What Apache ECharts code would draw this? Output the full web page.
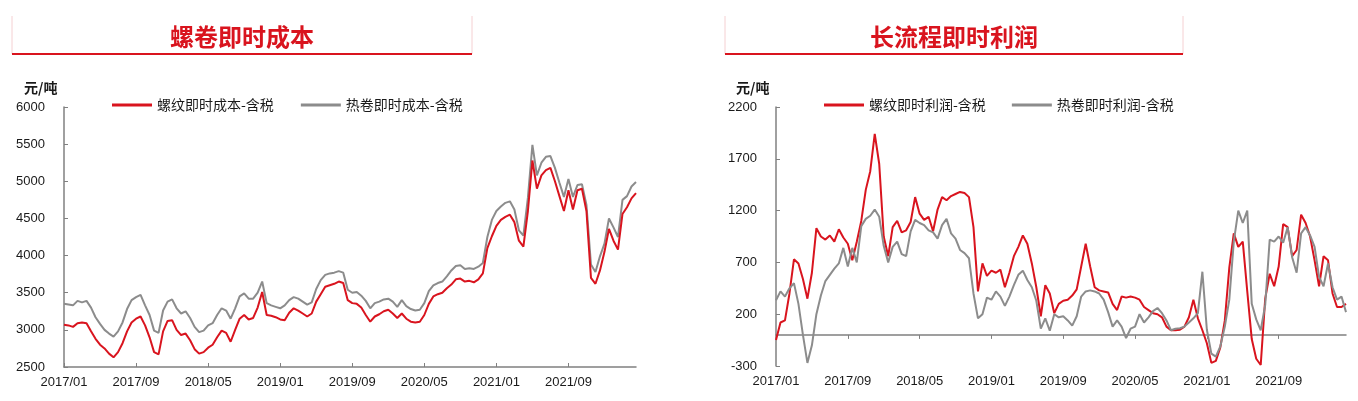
<!DOCTYPE html>
<html>
<head>
<meta charset="utf-8">
<script src="https://cdn.jsdelivr.net/npm/echarts@6/dist/echarts.min.js"></script>
<style>
html,body{margin:0;padding:0;background:#fff;}
#c{width:1358px;height:401px;}
</style>
</head>
<body>
<div id="c"></div>
<script>
// ---- categories: semi-monthly dates 2017/01 .. 2022/04 ----
const categories = [];
for (let i = 0; i < 128; i++) {
  const m = Math.floor(i / 2);
  const y = 2017 + Math.floor(m / 12);
  const mm = String(m % 12 + 1).padStart(2, '0');
  categories.push(y + '/' + mm + '/' + (i % 2 === 0 ? '01' : '16'));
}

// ---- left panel: instant cost (元/吨) ----
const rebarCost = [
3070,3060,3040,3090,3100,3090,2980,2880,2800,2750,2680,2630,2700,2820,2980,3100,
3150,3180,3060,2900,2700,2670,2980,3120,3130,3000,2930,2950,2860,2740,2680,2700,
2760,2800,2900,2990,2960,2840,3000,3150,3200,3140,3160,3300,3510,3200,3190,3170,
3140,3130,3230,3290,3260,3220,3180,3220,3380,3480,3580,3600,3620,3650,3630,3400,
3360,3350,3300,3200,3110,3180,3210,3250,3270,3220,3160,3220,3150,3110,3100,3110,
3200,3350,3450,3480,3500,3560,3610,3680,3690,3650,3660,3640,3680,3760,4100,4260,
4400,4480,4520,4550,4450,4200,4120,4600,5280,4900,5080,5150,5180,5000,4800,4600,
4880,4620,4880,4900,4600,3700,3620,3800,4050,4360,4200,4080,4560,4650,4770,4840
];
const hrcCost = [
3350,3340,3330,3390,3370,3390,3300,3170,3080,3000,2950,2910,2980,3100,3280,3400,
3440,3470,3330,3200,2990,2960,3260,3380,3410,3290,3220,3250,3160,3040,2970,2990,
3060,3090,3200,3290,3260,3150,3290,3450,3490,3420,3420,3500,3650,3360,3330,3310,
3290,3330,3400,3440,3420,3380,3340,3370,3550,3670,3740,3760,3770,3790,3770,3540,
3500,3510,3460,3390,3290,3360,3380,3410,3420,3380,3310,3400,3320,3280,3260,3270,
3360,3520,3600,3630,3650,3720,3800,3860,3870,3820,3830,3820,3850,3900,4250,4480,
4600,4660,4710,4730,4620,4340,4270,4780,5490,5080,5250,5330,5340,5180,4980,4790,
5030,4790,4950,4960,4680,3880,3780,3990,4160,4500,4380,4250,4750,4800,4930,4990
];

// ---- right panel: long-process instant profit (元/吨) ----
const rebarProfit = [
-50,120,140,400,730,690,540,350,600,1030,950,920,960,900,1020,940,
880,720,900,1100,1400,1580,1940,1650,950,760,1040,1100,990,1010,1090,1330,
1170,1110,1140,1000,1210,1330,1300,1340,1360,1380,1370,1330,1040,420,690,570,
620,600,630,460,600,760,850,960,880,690,460,180,480,400,210,300,
330,340,380,440,660,880,660,460,430,420,410,300,240,370,360,370,
360,340,270,240,210,200,170,80,45,45,50,80,170,340,160,45,
-80,-270,-250,-120,140,650,980,850,900,420,-40,-230,-290,350,590,470,
660,1070,1040,760,820,1160,1080,950,720,470,760,720,400,270,270,300
];
const hrcProfit = [
335,420,370,450,500,300,0,-270,-100,200,380,520,580,640,690,840,
660,840,700,1050,1120,1150,1210,1140,860,700,850,900,780,760,1000,1110,
1080,1060,1010,990,930,1060,1120,980,930,820,790,740,400,160,200,360,
340,420,370,280,370,480,580,620,530,460,330,60,160,40,200,170,
180,140,90,180,370,420,430,420,400,340,220,80,140,80,-30,60,
80,200,120,170,230,260,210,140,45,60,65,80,120,160,210,610,
50,-180,-210,-110,80,340,900,1200,1080,1200,300,150,45,290,920,900,
950,890,1040,750,600,980,1040,960,850,560,470,690,460,340,370,220
];

// ---- tick labels ----
const costTicks = [2500, 3000, 3500, 4000, 4500, 5000, 5500, 6000];
const profitTicks = [-300, 200, 700, 1200, 1700, 2200];
const xLabelStep = 16; // one label every 8 months

const names = {
  leftTitle: '螺卷即时成本',
  rightTitle: '长流程即时利润',
  unit: '元/吨',
  rebarCost: '螺纹即时成本-含税',
  hrcCost: '热卷即时成本-含税',
  rebarProfit: '螺纹即时利润-含税',
  hrcProfit: '热卷即时利润-含税'
};

const RED = '#D9141E';
const GRAY = '#8C8C8C';
const AXIS = '#808080';
const TXT = '#1a1a1a';
const NUMFONT = 'Liberation Sans, Arial, sans-serif';
const CJK = 'Noto Sans CJK SC, sans-serif';

const chart = echarts.init(document.getElementById('c'), null, {renderer: 'canvas'});

function titleBox(x1, x2, text) {
  return [
    {type: 'line', shape: {x1: x1, y1: 16, x2: x1, y2: 54}, style: {stroke: '#F5D0D2', lineWidth: 1}},
    {type: 'line', shape: {x1: x2, y1: 16, x2: x2, y2: 54}, style: {stroke: '#F5D0D2', lineWidth: 1}},
    {type: 'line', shape: {x1: x1, y1: 54, x2: x2, y2: 54}, style: {stroke: RED, lineWidth: 2}},
    {type: 'text', x: (x1 + x2) / 2, y: 37, style: {text: text, fill: RED, font: 'bold 24px ' + CJK, textAlign: 'center', textVerticalAlign: 'middle'}}
  ];
}

const labelFmt = v => v.slice(0, 7);
const numFmt = v => String(v);
const tickInterval = (idx) => idx % xLabelStep === 0;

const option = {
  animation: false,
  backgroundColor: '#fff',
  graphic: [
    ...titleBox(12, 472, names.leftTitle),
    ...titleBox(725, 1183, names.rightTitle),
    {type: 'text', x: 24, y: 88, style: {text: names.unit, fill: TXT, font: 'bold 14px ' + CJK, textVerticalAlign: 'middle'}},
    {type: 'text', x: 736, y: 88, style: {text: names.unit, fill: TXT, font: 'bold 14px ' + CJK, textVerticalAlign: 'middle'}}
  ],
  legend: [
    {
      data: [names.rebarCost, names.hrcCost],
      left: 107, top: 93, icon: 'rect', itemWidth: 40, itemHeight: 3, itemGap: 27,
      textStyle: {fontSize: 14, color: TXT, fontFamily: CJK}
    },
    {
      data: [names.rebarProfit, names.hrcProfit],
      left: 819, top: 93, icon: 'rect', itemWidth: 40, itemHeight: 3, itemGap: 26,
      textStyle: {fontSize: 14, color: TXT, fontFamily: CJK}
    }
  ],
  grid: [
    {left: 64, right: 722, top: 107, bottom: 34},
    {left: 776, right: 12, top: 107, bottom: 35}
  ],
  xAxis: [
    {
      gridIndex: 0, type: 'category', data: categories, boundaryGap: false,
      axisLine: {lineStyle: {color: AXIS, width: 1.5}},
      axisTick: {inside: true, length: 4, interval: tickInterval, lineStyle: {color: AXIS}},
      axisLabel: {interval: tickInterval, formatter: labelFmt, margin: 9, fontSize: 13, color: TXT, fontFamily: NUMFONT},
      splitLine: {show: false}
    },
    {
      gridIndex: 1, type: 'category', data: categories, boundaryGap: false,
      axisLine: {show: false, onZero: false},
      axisTick: {show: false},
      axisLabel: {interval: tickInterval, formatter: labelFmt, margin: 9, fontSize: 13, color: TXT, fontFamily: NUMFONT},
      splitLine: {show: false}
    },
    {
      gridIndex: 1, type: 'category', data: categories, boundaryGap: false,
      axisLine: {show: true, onZero: true, lineStyle: {color: AXIS, width: 1.5}},
      axisTick: {inside: true, length: 4, interval: tickInterval, lineStyle: {color: AXIS}},
      axisLabel: {show: false},
      splitLine: {show: false}
    }
  ],
  yAxis: [
    {
      gridIndex: 0, type: 'value', min: costTicks[0], max: costTicks[costTicks.length - 1], interval: 500,
      axisLine: {show: true, lineStyle: {color: AXIS, width: 1.5}},
      axisTick: {show: true, inside: true, length: 4, lineStyle: {color: AXIS}},
      axisLabel: {margin: 19, fontSize: 13, color: TXT, fontFamily: NUMFONT, formatter: numFmt},
      splitLine: {show: false}
    },
    {
      gridIndex: 1, type: 'value', min: profitTicks[0], max: profitTicks[profitTicks.length - 1],
      axisLine: {show: true, lineStyle: {color: AXIS, width: 1.5}},
      axisTick: {show: true, inside: true, length: 4, customValues: profitTicks, lineStyle: {color: AXIS}},
      axisLabel: {margin: 19, fontSize: 13, color: TXT, fontFamily: NUMFONT, customValues: profitTicks, formatter: numFmt},
      splitLine: {show: false}
    }
  ],
  series: [
    {name: names.rebarCost, type: 'line', xAxisIndex: 0, yAxisIndex: 0, data: rebarCost, showSymbol: false, lineStyle: {color: RED, width: 2}, itemStyle: {color: RED}, z: 3},
    {name: names.hrcCost, type: 'line', xAxisIndex: 0, yAxisIndex: 0, data: hrcCost, showSymbol: false, lineStyle: {color: GRAY, width: 2}, itemStyle: {color: GRAY}, z: 2},
    {name: names.rebarProfit, type: 'line', xAxisIndex: 1, yAxisIndex: 1, data: rebarProfit, showSymbol: false, lineStyle: {color: RED, width: 2}, itemStyle: {color: RED}, z: 2},
    {name: names.hrcProfit, type: 'line', xAxisIndex: 1, yAxisIndex: 1, data: hrcProfit, showSymbol: false, lineStyle: {color: GRAY, width: 2}, itemStyle: {color: GRAY}, z: 3}
  ]
};
chart.setOption(option);
</script>
</body>
</html>
